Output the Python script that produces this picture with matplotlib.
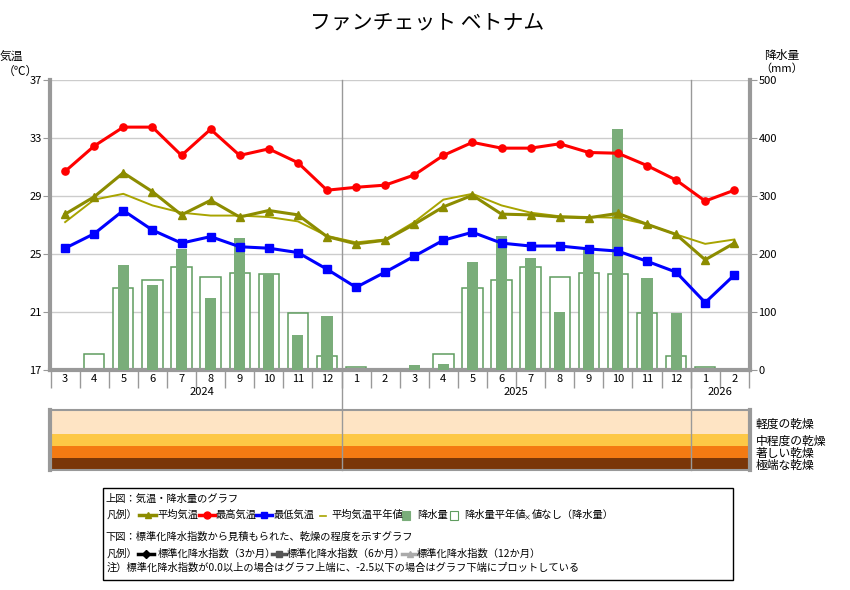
import matplotlib
matplotlib.use("Agg")
import matplotlib.pyplot as plt
import matplotlib.transforms as mtransforms
from matplotlib.lines import Line2D
from matplotlib.patches import Rectangle

plt.rcParams['font.family'] = ['Noto Sans CJK JP', 'DejaVu Sans']

# ---------------- data ----------------
month_labels = [3, 4, 5, 6, 7, 8, 9, 10, 11, 12, 1, 2, 3, 4, 5, 6, 7, 8, 9, 10, 11, 12, 1, 2]
year_labels = ["2024", "2025", "2026"]
year_label_pos = [4.7, 15.5, 22.5]
year_breaks = [9.5, 21.5]

temp_max = [30.7, 32.45, 33.75, 33.75, 31.8, 33.6, 31.8, 32.25, 31.3, 29.4, 29.6, 29.75,
            30.45, 31.8, 32.7, 32.3, 32.3, 32.6, 32.0, 31.95, 31.1, 30.1, 28.65, 29.4]
temp_min = [25.4, 26.4, 28.0, 26.65, 25.75, 26.2, 25.5, 25.4, 25.1, 23.95, 22.7, 23.75,
            24.85, 25.95, 26.5, 25.75, 25.55, 25.55, 25.35, 25.2, 24.5, 23.75, 21.65, 23.55]
temp_avg = [27.75, 28.95, 30.6, 29.3, 27.7, 28.7, 27.55, 28.0, 27.7, 26.2, 25.7, 25.95,
            27.05, 28.25, 29.05, 27.75, 27.7, 27.55, 27.5, 27.8, 27.05, 26.35, 24.6, 25.75]
temp_avg_normal = [27.2, 28.75, 29.15, 28.35, 27.85, 27.65, 27.65, 27.55, 27.25, 26.25, 25.8, 26.0,
                   27.2, 28.75, 29.15, 28.35, 27.85, 27.6, 27.55, 27.5, 27.05, 26.35, 25.7, 26.0]
precip = [0, 0, 181, 147, 208, 124, 228, 165, 60, 93, 0, 0,
          9, 10, 186, 231, 193, 100, 208, 415, 159, 98, 0, 0]
precip_normal = [0, 27, 141, 155, 178, 160, 168, 165, 98, 24, 6, 0,
                 0, 27, 141, 155, 178, 160, 168, 165, 98, 24, 6, 0]

drought_bounds = [0, -1.0, -1.5, -2.0, -2.5]
drought_labels = ["軽度の乾燥", "中程度の乾燥", "著しい乾燥", "極端な乾燥"]
drought_colors = ["#fee4c4", "#fdc846", "#f47a12", "#7a3608"]

# ---------------- figure ----------------
W, H = 850, 590
fig = plt.figure(figsize=(W / 100, H / 100), dpi=100)


def fx(x):
    return x / W


def fy(y):
    return 1 - y / H


GRAY = "#999999"
x = list(range(len(month_labels)))

ax = fig.add_axes([fx(50), fy(370), fx(700), 290 / H])
ax2 = ax.twinx()

# precipitation (right axis)
ax.set_axisbelow(True)
ax.bar(x, precip_normal, width=0.7, facecolor="white", edgecolor="#5f9c5f", linewidth=1.1, zorder=2)
ax.bar(x, precip, width=0.38, color="#7aad7a", linewidth=0, zorder=3)
ax.set_ylim(0, 500)
ax.set_xlim(-0.52, 23.54)
ax.yaxis.tick_right()
ax.set_yticks([0, 100, 200, 300, 400, 500])
ax.grid(axis="y", color="#cccccc", linewidth=1, zorder=0)
ax.tick_params(axis="y", length=5, color=GRAY, labelsize=8, pad=1)

# x axis
ax.set_xticks([i + 0.5 for i in range(-1, 24)])
ax.set_xticklabels([])
ax.tick_params(axis="x", which="major", length=13, color=GRAY, width=1)
ax.set_xticks(x, minor=True)
ax.set_xticklabels([str(m) for m in month_labels], minor=True)
ax.tick_params(axis="x", which="minor", length=0, labelsize=8, pad=3)

trans = mtransforms.blended_transform_factory(ax.transData, ax.transAxes)
for pos, lab in zip(year_label_pos, year_labels):
    ax.text(pos, -0.076, lab, transform=trans, ha="center", va="center", fontsize=8)

for sp in ["left", "right", "bottom"]:
    ax.spines[sp].set_color(GRAY)
    ax.spines[sp].set_linewidth(3)
ax.spines["top"].set_visible(False)
for sp in ax2.spines.values():
    sp.set_visible(False)

# year separators (through gap into drought panel)
for b in year_breaks:
    ax.plot([b, b], [1, -0.345], transform=trans, color=GRAY, linewidth=1, clip_on=False, zorder=1)

# temperatures (left axis)
ax2.yaxis.tick_left()
ax2.set_ylim(17, 37)
ax2.set_yticks([17, 21, 25, 29, 33, 37])
ax2.tick_params(axis="y", length=5, color=GRAY, labelsize=8, pad=1)
ax2.plot(x, temp_avg_normal, color="#a8a400", linewidth=1.4, zorder=3)
ax2.plot(x, temp_avg, color="#8c8c00", linewidth=2.2, marker="^", markersize=6, zorder=4)
ax2.plot(x, temp_max, color="#ff0000", linewidth=2.2, marker="o", markersize=5.2, zorder=5)
ax2.plot(x, temp_min, color="#0000ff", linewidth=2.2, marker="s", markersize=5.2, zorder=5)
ax2.set_xlim(-0.52, 23.54)

# drought panel
ax3 = fig.add_axes([fx(50), fy(470), fx(700), 60 / H])
for top, bot, c in zip(drought_bounds[:-1], drought_bounds[1:], drought_colors):
    ax3.axhspan(bot, top, color=c, linewidth=0)
ax3.set_ylim(-2.5, 0)
ax3.set_xlim(-0.52, 23.54)
for b in year_breaks:
    ax3.axvline(b, color=GRAY, linewidth=1)
ax3.set_xticks([])
ax3.set_yticks([])
for sp in ["left", "right"]:
    ax3.spines[sp].set_color(GRAY)
    ax3.spines[sp].set_linewidth(3)
for sp in ["top", "bottom"]:
    ax3.spines[sp].set_color(GRAY)
    ax3.spines[sp].set_linewidth(1.5)

for lab, yy in zip(drought_labels, [424, 441, 453, 465]):
    fig.text(fx(756), fy(yy), lab, fontsize=8.5, ha="left", va="center")

# title and axis labels
fig.text(fx(427), fy(22), "ファンチェット ベトナム", fontsize=15, ha="center", va="center")
fig.text(fx(0), fy(57), "気温", fontsize=8.5, ha="left", va="center")
fig.text(fx(3), fy(71), "（℃）", fontsize=8.5, ha="left", va="center")
fig.text(fx(782), fy(55), "降水量", fontsize=8.5, ha="center", va="center")
fig.text(fx(782), fy(69), "（mm）", fontsize=8, ha="center", va="center")

# legend box
fig.add_artist(Rectangle((fx(103), fy(580)), fx(630), 92 / H, transform=fig.transFigure,
                         facecolor="white", edgecolor="black", linewidth=1))
FS = 7.4


def t(xp, yp, s, **kw):
    fig.text(fx(xp), fy(yp), s, fontsize=kw.pop("fontsize", FS), ha="left", va="center", **kw)


def mk(x1, x2, yp, color, marker, ms, lw=2.5):
    fig.add_artist(Line2D([fx(x1), fx((x1 + x2) / 2), fx(x2)], [fy(yp)] * 3, transform=fig.transFigure,
                          color=color, linewidth=lw, marker=marker, markersize=ms, markevery=[1]))


t(105, 499, "上図：気温・降水量のグラフ")
t(107, 515, "凡例）")
mk(139, 156, 515, "#8c8c00", "^", 5)
t(157, 515, "平均気温")
mk(199, 215, 515, "#ff0000", "o", 5)
t(216, 515, "最高気温")
mk(256, 272, 515, "#0000ff", "s", 5)
t(273, 515, "最低気温")
fig.add_artist(Line2D([fx(320), fx(326)], [fy(516)] * 2, transform=fig.transFigure, color="#a8a400", linewidth=1.2))
t(331, 515, "平均気温平年値")
fig.add_artist(Rectangle((fx(402), fy(520)), fx(8), 9 / H, transform=fig.transFigure,
                         facecolor="#7aad7a", edgecolor="#7aad7a", linewidth=0.8))
t(417, 515, "降水量")
fig.add_artist(Rectangle((fx(450), fy(520)), fx(8), 9 / H, transform=fig.transFigure,
                         facecolor="white", edgecolor="#5f9c5f", linewidth=0.8))
t(464, 515, "降水量平年値")
t(524, 517, "×", fontsize=5)
t(532, 515, "値なし（降水量）")

t(105, 537, "下図：標準化降水指数から見積もられた、乾燥の程度を示すグラフ")
t(107, 554, "凡例）")
mk(138, 154, 554, "#000000", "D", 4)
t(158, 554, "標準化降水指数（3か月）")
mk(272, 286, 554, "#555555", "s", 4)
t(287, 554, "標準化降水指数（6か月）")
mk(402, 418, 554, "#aaaaaa", "^", 4)
t(417, 554, "標準化降水指数（12か月）")
t(107, 568, "注）標準化降水指数が0.0以上の場合はグラフ上端に、-2.5以下の場合はグラフ下端にプロットしている")

fig.savefig("out.png", dpi=100)
